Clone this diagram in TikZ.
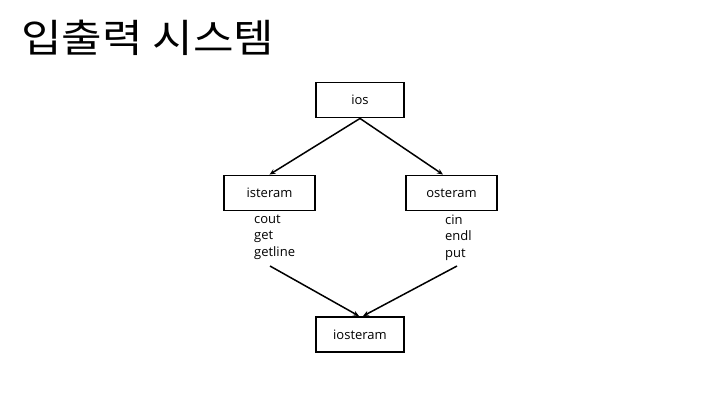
\documentclass[tikz,border=0pt]{standalone}
\usepackage{fontspec}
\setmainfont{Open Sans}
\newfontfamily\kofont{Noto Sans CJK KR}
\usetikzlibrary{arrows.meta}
\begin{document}
\begin{tikzpicture}[x=1pt,y=-1pt,
  box/.style={draw,line width=1.9pt,minimum width=88pt,minimum height=35pt,inner sep=0pt,font=\fontsize{13}{15}\selectfont},
  conn/.style={line width=1.5pt,-{Stealth[length=6pt,width=5pt]}},
  lbl/.style={anchor=north west,align=left,inner sep=0pt,font=\fontsize{13}{16.5}\selectfont}]
\useasboundingbox (0,0) rectangle (720,405);
\node[anchor=west,inner sep=0pt,xscale=1.13,font=\kofont\fontsize{39}{44}\selectfont] (title) at (21,38) {입출력 시스템};
\node[box] (ios) at (360,100) {ios};
\node[box,minimum width=91pt] (is) at (269.5,193) {isteram};
\node[box,minimum width=91pt] (os) at (451.5,193) {osteram};
\node[box] (io) at (360,334.5) {iosteram};
\node[lbl] (isl) at (254,214.5) {cout\\get\\getline};
\node[lbl] (osl) at (445,214.5) {cin\\endl\\put};
\coordinate (a1) at (270,266);
\coordinate (a2) at (457,266);
\draw[conn] (ios.south) -- (is.north);
\draw[conn] (ios.south) -- (os.north -| 443,0);
\draw[conn] (a1) -- (io.north -| 359,0);
\draw[conn] (a2) -- (io.north -| 363,0);
\end{tikzpicture}
\end{document}
